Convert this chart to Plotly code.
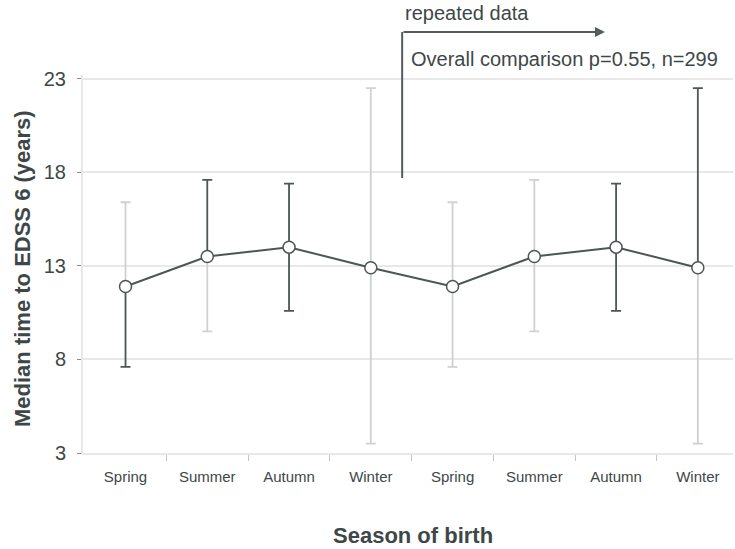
import plotly.graph_objects as go

# ---- data ----
seasons = ["Spring", "Summer", "Autumn", "Winter", "Spring", "Summer", "Autumn", "Winter"]
median_years = [11.9, 13.5, 14.0, 12.9, 11.9, 13.5, 14.0, 12.9]
upper_ci = [16.4, 17.6, 17.4, 22.5, 16.4, 17.6, 17.4, 22.5]
lower_ci = [7.6, 9.5, 10.6, 3.5, 7.6, 9.5, 10.6, 3.5]
# print/scan shading of each whisker (True = dark), upper and lower halves
upper_dark = [False, True, True, False, False, False, True, True]
lower_dark = [True, False, True, False, False, False, True, False]
y_ticks = [3, 8, 13, 18, 23]

x_pos = list(range(len(seasons)))
up_len = [u - m for u, m in zip(upper_ci, median_years)]
lo_len = [m - l for m, l in zip(median_years, lower_ci)]

DARK = "#4d5555"
LIGHT = "#cfd1d1"
TXT = "#3e4747"
FONT = "Arial, Liberation Sans, sans-serif"

fig = go.Figure()

for color, flag in ((LIGHT, False), (DARK, True)):
    fig.add_trace(go.Scatter(
        x=x_pos, y=median_years, mode="markers",
        marker=dict(size=1, color="rgba(0,0,0,0)"),
        error_y=dict(
            type="data", symmetric=False,
            array=[v if d == flag else 0 for v, d in zip(up_len, upper_dark)],
            arrayminus=[v if d == flag else 0 for v, d in zip(lo_len, lower_dark)],
            color=color, thickness=1.8, width=5,
        ),
        hoverinfo="skip", showlegend=False,
    ))

fig.add_trace(go.Scatter(
    x=x_pos, y=median_years, mode="lines+markers",
    line=dict(color=DARK, width=2),
    marker=dict(size=12, color="white", line=dict(color=DARK, width=1.5)),
    showlegend=False,
))

fig.update_layout(
    width=735, height=549,
    margin=dict(l=83, r=2, t=75, b=96),
    paper_bgcolor="white", plot_bgcolor="white",
    font=dict(family=FONT, color=TXT),
    xaxis=dict(
        range=[-0.52, 7.43],
        tickmode="array", tickvals=x_pos, ticktext=seasons,
        tickfont=dict(size=15, color=TXT),
        ticks="", ticklabelstandoff=9,
        showgrid=False, zeroline=False,
        showline=True, linecolor="#e8e8e8", linewidth=2,
        minor=dict(tickmode="array", tickvals=[p + 0.5 for p in x_pos[:-1]],
                   ticks="outside", ticklen=6, tickcolor="#c4c4c4", tickwidth=1,
                   showgrid=False),
    ),
    yaxis=dict(
        range=[3, 23.2],
        tickmode="array", tickvals=y_ticks,
        tickfont=dict(size=20, color=TXT),
        ticks="outside", ticklen=4, tickcolor="#8a8a8a", ticklabelstandoff=7,
        showgrid=True, gridcolor="#e8e8e8", gridwidth=2,
        zeroline=False,
        showline=True, linecolor="#e8e8e8", linewidth=2,
    ),
    annotations=[
        dict(text="<b>Median time to EDSS 6 (years)</b>", textangle=-90,
             xref="paper", yref="paper", x=-0.0923, y=0.4868,
             xanchor="center", yanchor="middle", showarrow=False,
             font=dict(size=22, color=TXT, family=FONT)),
        dict(text="<b>Season of birth</b>",
             xref="paper", yref="paper", x=0.5077, y=-0.217,
             xanchor="center", yanchor="middle", showarrow=False,
             font=dict(size=22, color=TXT, family=FONT)),
        dict(text="repeated data",
             xref="paper", yref="paper", x=0.4923, y=1.164,
             xanchor="left", yanchor="middle", showarrow=False,
             font=dict(size=20, color=TXT, family=FONT)),
        dict(text="Overall comparison p=0.55, n=299",
             xref="paper", yref="paper", x=0.5015, y=1.0423,
             xanchor="left", yanchor="middle", showarrow=False,
             font=dict(size=20, color=TXT, family=FONT)),
        dict(text="", xref="paper", yref="paper", x=0.803, y=1.1138,
             ax=-203, ay=0, showarrow=True, arrowhead=2, arrowsize=1,
             arrowwidth=2, arrowcolor="#555c5c", standoff=0, startstandoff=0),
    ],
    shapes=[
        dict(type="line", xref="paper", yref="paper",
             x0=0.491, x1=0.491, y0=0.7275, y1=1.1138,
             line=dict(color="#555c5c", width=2)),
    ],
)

fig.write_html("out.html")
